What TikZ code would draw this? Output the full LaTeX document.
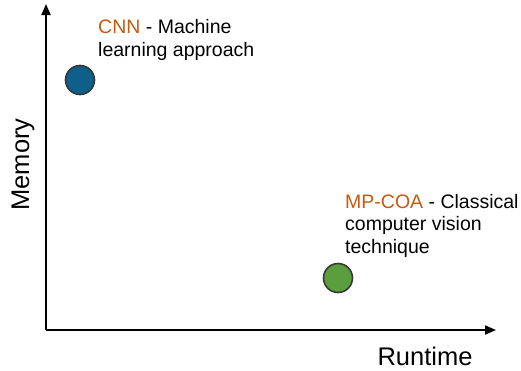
\documentclass[tikz,border=0pt]{standalone}
\usepackage{fontspec}
\setmainfont{Liberation Sans}
\usetikzlibrary{arrows.meta}
\definecolor{cnnblue}{HTML}{0F5F8A}
\definecolor{mpgreen}{HTML}{5B9E3E}
\definecolor{accent}{HTML}{C55A11}
\begin{document}
\begin{tikzpicture}[x=1pt,y=-1pt,
  axis/.style={line width=2pt,-{Triangle[length=11pt,width=9pt]}},
  dot/.style={circle,minimum size=29pt,inner sep=0pt,draw=black!78,line width=1.6pt},
  lbl/.style={font=\fontsize{19.5}{22.5}\selectfont,align=left,anchor=base west,inner sep=0pt},
  axlbl/.style={font=\fontsize{25.5}{28}\selectfont,inner sep=0pt,anchor=base,text depth=0pt}]
\useasboundingbox (0,0) rectangle (521,370);
\coordinate (o) at (46,330);
\coordinate (ytop) at (46,4);
\coordinate (xend) at (496,330);
\draw[axis] (o) -- (ytop);
\draw[axis] (o) -- (xend);
\node[dot,fill=cnnblue] (cnn) at (80,80) {};
\node[dot,fill=mpgreen] (mp) at (338,278) {};
\node[lbl] (cnnl) at (98,56) {\textcolor{accent}{CNN} - Machine\\learning approach};
\node[lbl] (mpl) at (345,253) {\textcolor{accent}{MP-COA} - Classical\\computer vision\\technique};
\node[axlbl,rotate=90] (ylab) at (29,164.5) {Memory};
\node[axlbl] (xlab) at (425,365) {Runtime};
\end{tikzpicture}
\end{document}
